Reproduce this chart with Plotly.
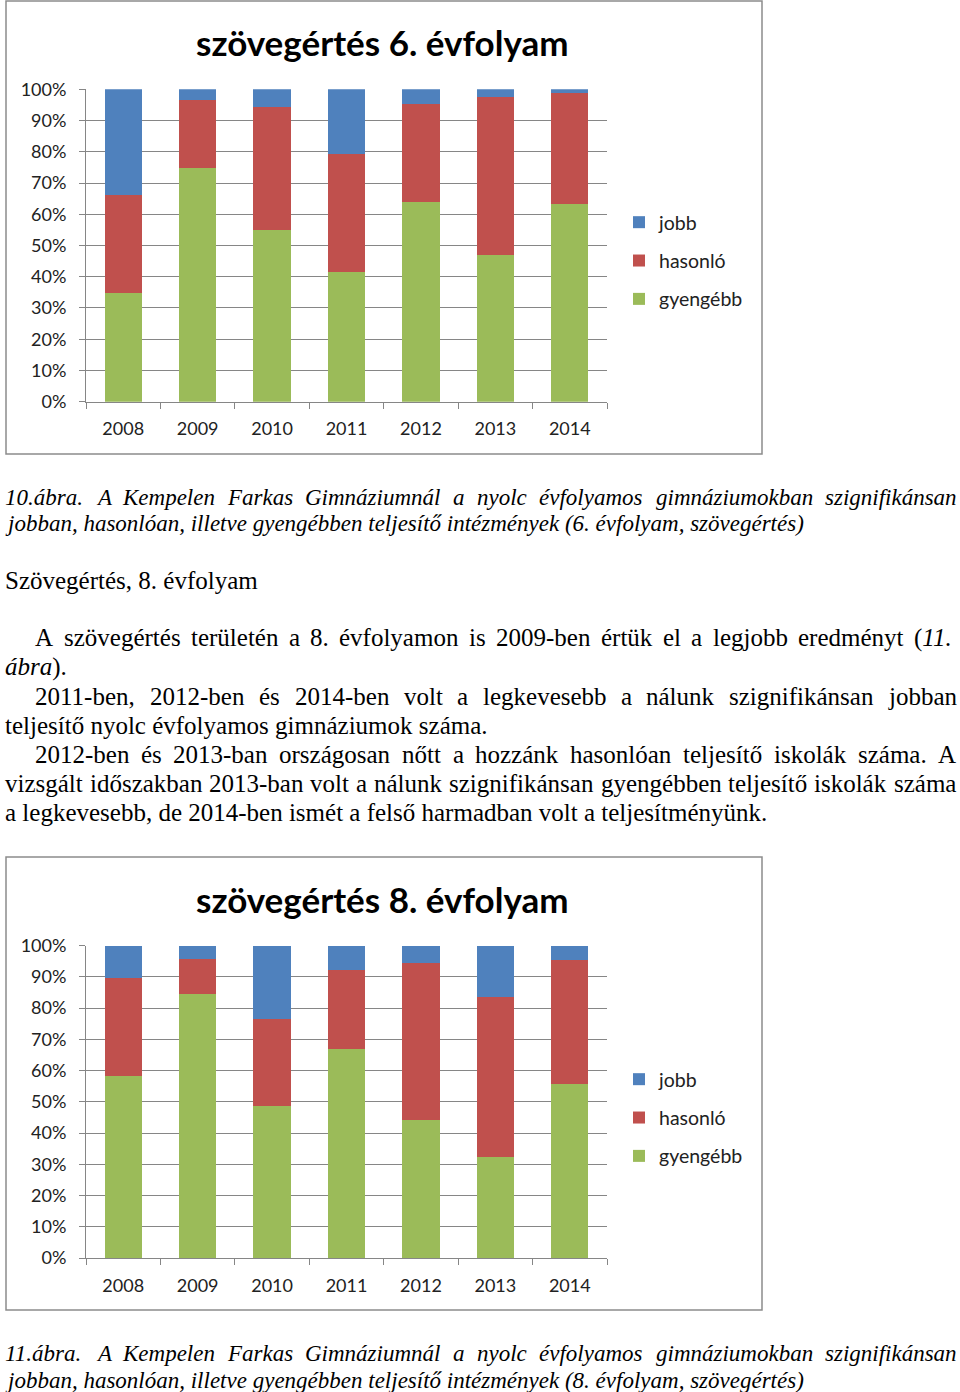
import plotly.graph_objects as go

# ---------------- data ----------------
years = ["2008", "2009", "2010", "2011", "2012", "2013", "2014"]
series_names = ["gyengébb", "hasonló", "jobb"]
legend_rank = {"jobb": 1, "hasonló": 2, "gyengébb": 3}

ev6_gyengebb = [34.7, 74.7, 55.0, 41.4, 63.8, 46.9, 63.4]
ev6_hasonlo = [31.5, 21.9, 39.2, 37.8, 31.5, 50.7, 35.5]
ev6_jobb = [33.8, 3.4, 5.8, 20.8, 4.7, 2.4, 1.1]

ev8_gyengebb = [58.3, 84.4, 48.8, 66.9, 44.3, 32.4, 55.6]
ev8_hasonlo = [31.4, 11.2, 27.7, 25.2, 50.1, 51.3, 39.7]
ev8_jobb = [10.3, 4.4, 23.5, 7.9, 5.6, 16.3, 4.7]

y_ticks = [0, 10, 20, 30, 40, 50, 60, 70, 80, 90, 100]
y_ticktext = ["0%", "10%", "20%", "30%", "40%", "50%", "60%", "70%", "80%", "90%", "100%"]

title6 = "szövegértés 6. évfolyam"
title8 = "szövegértés 8. évfolyam"

caption10 = [
    "10.ábra. A Kempelen Farkas Gimnáziumnál a nyolc évfolyamos gimnáziumokban szignifikánsan",
    "jobban, hasonlóan, illetve gyengébben teljesítő intézmények (6. évfolyam, szövegértés)",
]
heading = "Szövegértés, 8. évfolyam"
body = [
    "A szövegértés területén a 8. évfolyamon is 2009-ben értük el a legjobb eredményt (<i>11.</i>",
    "<i>ábra</i>).",
    "2011-ben, 2012-ben és 2014-ben volt a legkevesebb a nálunk szignifikánsan jobban",
    "teljesítő nyolc évfolyamos gimnáziumok száma.",
    "2012-ben és 2013-ban országosan nőtt a hozzánk hasonlóan teljesítő iskolák száma. A",
    "vizsgált időszakban 2013-ban volt a nálunk szignifikánsan gyengébben teljesítő iskolák száma",
    "a legkevesebb, de 2014-ben ismét a felső harmadban volt a teljesítményünk.",
]
caption11 = [
    "11.ábra. A Kempelen Farkas Gimnáziumnál a nyolc évfolyamos gimnáziumokban szignifikánsan",
    "jobban, hasonlóan, illetve gyengébben teljesítő intézmények (8. évfolyam, szövegértés)",
]

# ---------------- styles ----------------
W, H = 960, 1392
COL = {"gyengébb": "#9BBB59", "hasonló": "#C0504D", "jobb": "#4F81BD"}
GRID = "#868686"
CHART_FONT = "Lato"
SERIF = "Liberation Serif"

# Times New Roman metrics (1/1000 em) for justification
REG = {" ": 250, "(": 333, ")": 333, ",": 250, "-": 333, ".": 250,
       "A": 722, "F": 556, "G": 722, "K": 722, "S": 556,
       "a": 444, "b": 500, "c": 444, "d": 500, "e": 444, "f": 333, "g": 500, "h": 500,
       "i": 278, "j": 278, "k": 500, "l": 278, "m": 778, "n": 500, "o": 500, "p": 500,
       "r": 333, "s": 389, "t": 278, "u": 500, "v": 500, "y": 500, "z": 444,
       "á": 444, "é": 444, "í": 278, "ó": 500, "ö": 500, "ő": 500, "ú": 500, "ü": 500}
ITA = {" ": 250, "(": 333, ")": 333, ",": 250, "-": 333, ".": 250,
       "A": 611, "F": 611, "G": 722, "K": 667, "S": 500,
       "a": 500, "b": 500, "c": 444, "d": 500, "e": 444, "f": 278, "g": 500, "h": 500,
       "i": 278, "j": 278, "k": 444, "l": 278, "m": 722, "n": 500, "o": 500, "p": 500,
       "r": 389, "s": 389, "t": 278, "u": 500, "v": 444, "y": 444, "z": 389,
       "á": 500, "é": 444, "í": 278, "ó": 500, "ö": 500, "ő": 500, "ú": 500, "ü": 500}


def text_width(s, size, italic=False):
    w = 0
    i = 0
    it = italic
    while i < len(s):
        if s.startswith("<i>", i):
            it = True
            i += 3
            continue
        if s.startswith("</i>", i):
            it = italic
            i += 4
            continue
        c = s[i]
        tab = ITA if it else REG
        w += tab.get(c, 500 if c.isdigit() else 450)
        i += 1
    return w * size / 1000.0


annotations = []


def px(x):
    return x / W


def py(y):
    return 1 - y / H


def add_line(text, y, size, italic=False, left=4, right=None):
    """right=None -> left aligned; else justified between left and right."""
    fnt = dict(family=SERIF, size=size, color="#000")
    if right is None:
        t = f"<i>{text}</i>" if italic else text
        annotations.append(dict(text=t, x=px(left), y=py(y), xref="paper", yref="paper",
                                xanchor="left", yanchor="middle", showarrow=False,
                                borderpad=0, font=fnt))
        return
    words = text.split(" ")
    ws = [text_width(w, size, italic) for w in words]
    gap = (right - left - sum(ws)) / (len(words) - 1)
    x = left
    for w, wd in zip(words, ws):
        t = f"<i>{w}</i>" if italic else w
        annotations.append(dict(text=t, x=px(x), y=py(y), xref="paper", yref="paper",
                                xanchor="left", yanchor="middle", showarrow=False,
                                borderpad=0, font=fnt))
        x += wd + gap


# ---------------- figure ----------------
fig = go.Figure()

charts = [
    (title6, ev6_gyengebb, ev6_hasonlo, ev6_jobb, "x", "y", "legend", 0),
    (title8, ev8_gyengebb, ev8_hasonlo, ev8_jobb, "x2", "y2", "legend2", 856.5),
]

for title, g, h, j, xa, ya, lg, off in charts:
    for name, vals in zip(series_names, [g, h, j]):
        fig.add_trace(go.Bar(x=years, y=vals, name=name,
                             marker=dict(color=COL[name], line=dict(width=0)),
                             xaxis=xa, yaxis=ya, legend=lg, legendgroup=lg + name,
                             legendrank=legend_rank[name], showlegend=True, hoverinfo="skip"))
    annotations.append(dict(text=f"<b>{title}</b>", x=px(382.5), y=py(42 + off), xref="paper", yref="paper",
                            xanchor="center", yanchor="middle", showarrow=False,
                            font=dict(family=CHART_FONT, size=35, color="#000")))

axis_common = dict(showline=True, linecolor=GRID, linewidth=1, ticks="outside", ticklen=6,
                   tickcolor=GRID, tickwidth=1, tickfont=dict(family=CHART_FONT, size=18, color="#222"),
                   fixedrange=True)

ycommon = dict(axis_common, range=[0, 100], tickvals=y_ticks, ticktext=y_ticktext, showgrid=True,
               gridcolor=GRID, gridwidth=1, zeroline=False, ticklabelstandoff=9)
xcommon = dict(axis_common, type="category", tickson="boundaries", showgrid=False, ticklabelstandoff=11)

xdom = [px(86), px(607)]
fig.update_layout(
    xaxis=dict(xcommon, domain=xdom, anchor="y"),
    yaxis=dict(ycommon, domain=[py(401.7), py(89.3)], anchor="x"),
    xaxis2=dict(xcommon, domain=xdom, anchor="y2"),
    yaxis2=dict(ycommon, domain=[py(1258), py(945.7)], anchor="x2"),
)

legend_common = dict(font=dict(family=CHART_FONT, size=19.5, color="#222"), traceorder="grouped",
                     tracegroupgap=10, bgcolor="rgba(0,0,0,0)", xanchor="left", yanchor="top",
                     itemclick=False, itemdoubleclick=False)
fig.update_layout(
    legend=dict(legend_common, x=px(619), y=py(203)),
    legend2=dict(legend_common, x=px(619), y=py(1060)),
)

# chart frames
shapes = []
for top, bot in [(1, 454), (857, 1310)]:
    shapes.append(dict(type="rect", xref="paper", yref="paper", x0=px(6), x1=px(762),
                       y0=py(bot), y1=py(top), line=dict(color="#8c8c8c", width=1.5),
                       fillcolor="rgba(0,0,0,0)", layer="below"))

# text blocks
add_line(caption10[0], 497, 23, italic=True, left=4, right=956)
add_line(caption10[1], 523, 23, italic=True, left=4)
add_line(heading, 580, 25, left=4)
add_line(body[0], 638, 25, left=34, right=953)
add_line(body[1], 667, 25, left=4)
add_line(body[2], 696, 25, left=34, right=955)
add_line(body[3], 725, 25, left=4)
add_line(body[4], 754, 25, left=34, right=955)
add_line(body[5], 783, 25, left=4, right=955)
add_line(body[6], 812, 25, left=4)
add_line(caption11[0], 1353, 23, italic=True, left=4, right=956)
add_line(caption11[1], 1380, 23, italic=True, left=4)

fig.update_layout(
    width=W, height=H, margin=dict(l=0, r=0, t=0, b=0, autoexpand=False),
    paper_bgcolor="white", plot_bgcolor="white",
    barmode="stack", bargap=0.5,
    annotations=annotations, shapes=shapes,
)

fig.write_html("out.html", config={"displayModeBar": False},
               post_script="document.body.style.margin='0';")
